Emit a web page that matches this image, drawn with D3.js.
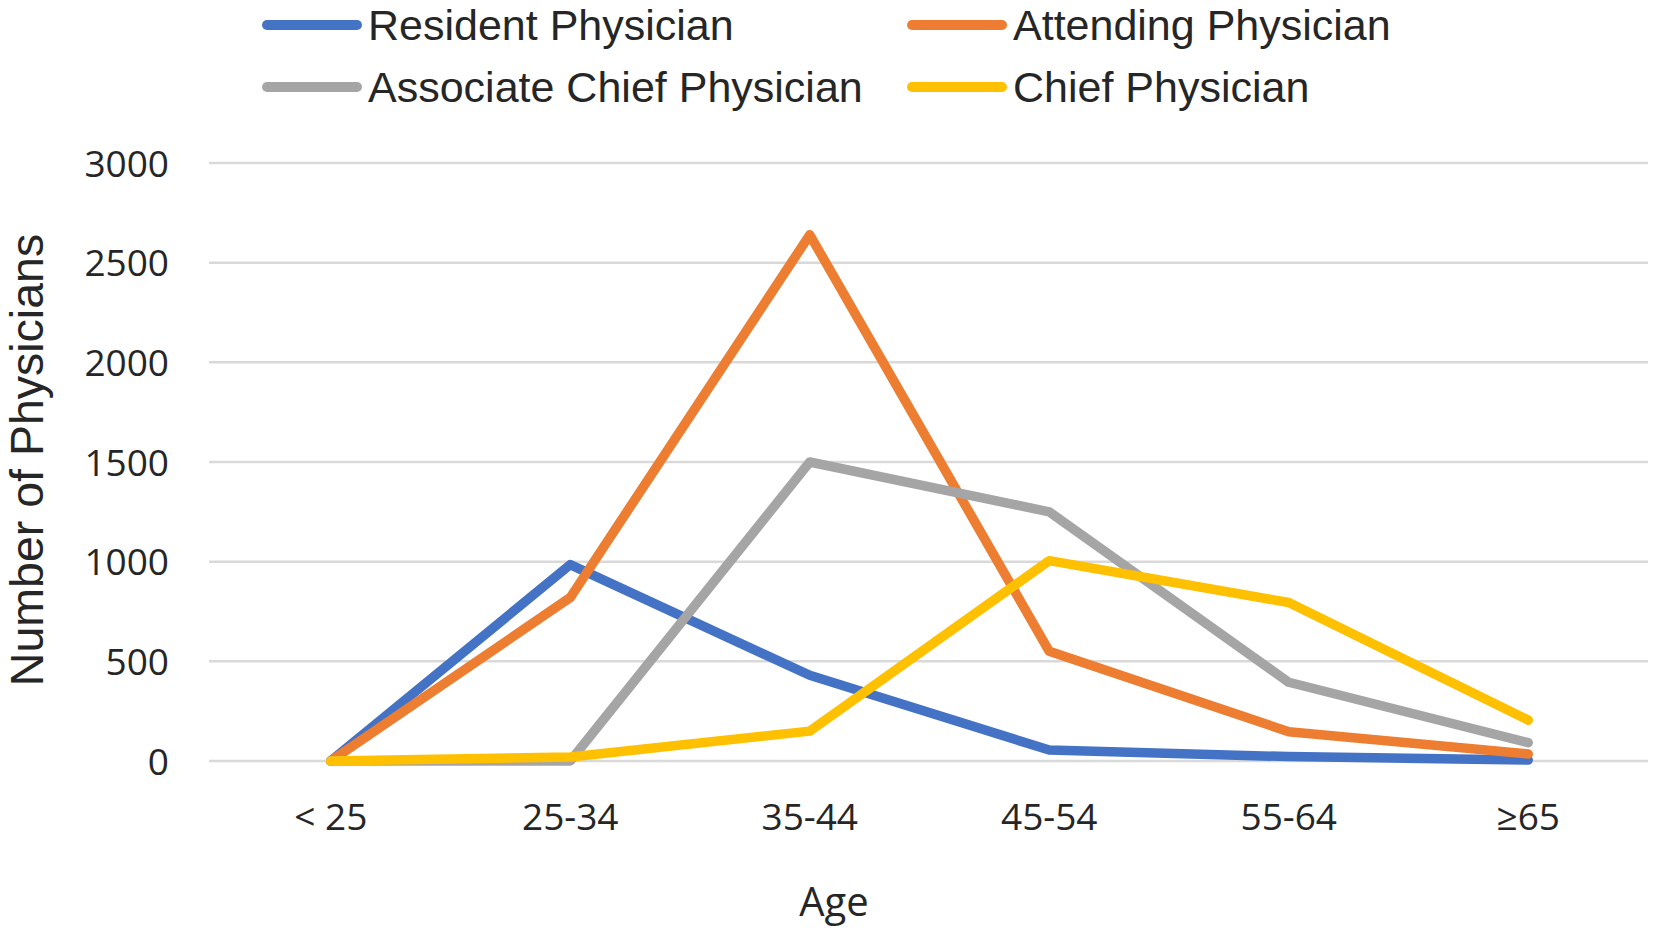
<!DOCTYPE html>
<html>
<head>
<meta charset="utf-8">
<script src="https://cdn.jsdelivr.net/npm/d3@7"></script>
<style>
  html, body { margin: 0; padding: 0; background: #fff; }
  svg { display: block; }
</style>
</head>
<body>
<svg id="chart" width="1654" height="931"></svg>
<script>
// ---- data ----
const categories = ["< 25", "25-34", "35-44", "45-54", "55-64", "\u226565"];
const seriesNames = ["Resident Physician", "Attending Physician", "Associate Chief Physician", "Chief Physician"];
const residentValues  = [0, 985, 430, 55, 22, 5];
const attendingValues = [0, 820, 2640, 550, 147, 35];
const associateValues = [0, 0, 1500, 1250, 395, 92];
const chiefValues     = [0, 20, 150, 1005, 795, 205];
const yTicks = [0, 500, 1000, 1500, 2000, 2500, 3000];
const seriesColors = ["#4472C4", "#ED7D31", "#A5A5A5", "#FFC000"];
const xTitle = "Age";
const yTitle = "Number of Physicians";

const series = [residentValues, attendingValues, associateValues, chiefValues].map((v, i) => ({
  name: seriesNames[i], values: v, color: seriesColors[i]
}));

const svg = d3.select("#chart");
const plot = { left: 211, right: 1648, top: 163, bottom: 761 };

const x = d3.scaleBand().domain(categories).range([plot.left, plot.right]).padding(0);
const y = d3.scaleLinear().domain([0, 3000]).range([plot.bottom, plot.top]);
const xc = c => x(c) + x.bandwidth() / 2;

// gridlines
svg.append("g").selectAll("line").data(yTicks).join("line")
  .attr("x1", plot.left - 2).attr("x2", plot.right)
  .attr("y1", d => y(d)).attr("y2", d => y(d))
  .attr("stroke", "#D9D9D9").attr("stroke-width", 2.5);

// y axis
const yAxis = d3.axisLeft(y).tickValues(yTicks).tickSize(0).tickPadding(0).tickFormat(d3.format("d"));
const gy = svg.append("g").attr("transform", `translate(169,0)`).call(yAxis);
gy.select(".domain").remove();
gy.selectAll("text")
  .attr("font-family", "'Open Sans', sans-serif").attr("font-size", 37)
  .attr("fill", "#262626").attr("dy", "0.36em");

// x axis
const xAxis = d3.axisBottom(x).tickSize(0).tickPadding(0);
const gx = svg.append("g").attr("transform", `translate(0,804)`).call(xAxis);
gx.select(".domain").remove();
gx.selectAll("text")
  .attr("font-family", "'Open Sans', sans-serif").attr("font-size", 37)
  .attr("fill", "#262626").attr("dy", "0.7em");

// axis titles
svg.append("text").attr("x", 834).attr("y", 916).attr("text-anchor", "middle")
  .attr("font-family", "'Open Sans', sans-serif").attr("font-size", 40)
  .attr("fill", "#262626").text(xTitle);

svg.append("text").attr("transform", `translate(43,460) rotate(-90)`).attr("text-anchor", "middle")
  .attr("font-family", "'Liberation Sans', Arial, sans-serif").attr("font-size", 46.5)
  .attr("fill", "#262626").text(yTitle);

// lines
const line = d3.line().x((d, i) => xc(categories[i])).y(d => y(d));
svg.append("g").selectAll("path").data(series).join("path")
  .attr("d", d => line(d.values))
  .attr("fill", "none").attr("stroke", d => d.color)
  .attr("stroke-width", 9.5).attr("stroke-linejoin", "round").attr("stroke-linecap", "round");

// legend
const legendPos = [
  { lx: 267, ly: 25 }, { lx: 912, ly: 25 },
  { lx: 267, ly: 87 }, { lx: 912, ly: 87 }
];
const lg = svg.append("g").selectAll("g").data(series).join("g")
  .attr("transform", (d, i) => `translate(${legendPos[i].lx},${legendPos[i].ly})`);
lg.append("line").attr("x1", 0).attr("x2", 90).attr("y1", 0).attr("y2", 0)
  .attr("stroke", d => d.color).attr("stroke-width", 10).attr("stroke-linecap", "round");
lg.append("text").attr("x", 101).attr("y", 0).attr("dy", "0.36em")
  .attr("font-family", "'Liberation Sans', Arial, sans-serif").attr("font-size", 43)
  .attr("fill", "#262626").text(d => d.name);
</script>
</body>
</html>
